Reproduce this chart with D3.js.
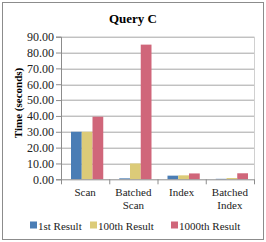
<!DOCTYPE html>
<html>
<head>
<meta charset="utf-8">
<script src="https://cdnjs.cloudflare.com/ajax/libs/d3/7.8.5/d3.min.js"></script>
<style>
  body { margin: 0; background: #fff; }
  svg text { font-family: "Liberation Serif", "Times New Roman", serif; }
</style>
</head>
<body>
<div id="chart"></div>
<script>
var width = 266;
var height = 242;

// data
var categories = ["Scan", "Batched Scan", "Index", "Batched Index"];
var seriesNames = ["1st Result", "100th Result", "1000th Result"];
var firstResult = [30.0, 0.6, 2.3, 0.3];
var hundredthResult = [30.0, 10.0, 2.5, 0.8];
var thousandthResult = [39.5, 85.0, 3.7, 3.8];
var yTicks = [0, 10, 20, 30, 40, 50, 60, 70, 80, 90];
var colors = ["#4a7db5", "#dccb78", "#d0667a"];

var series = [firstResult, hundredthResult, thousandthResult];

var margin = {top: 36.7, right: 12, bottom: 62.7, left: 61};
var plotW = width - margin.left - margin.right;
var plotH = height - margin.top - margin.bottom;

var svg = d3.select("#chart")
  .append("svg")
  .attr("width", width)
  .attr("height", height);

// outer frame
svg.append("rect")
  .attr("x", 2.5).attr("y", 2.5)
  .attr("width", 261).attr("height", 237)
  .attr("fill", "#fff")
  .attr("stroke", "#8c8c8c")
  .attr("stroke-width", 1);

svg.append("text")
  .attr("x", 133).attr("y", 23)
  .attr("text-anchor", "middle")
  .attr("font-size", 13)
  .attr("font-weight", "bold")
  .text("Query C");

var g = svg.append("g")
  .attr("transform", "translate(" + margin.left + "," + margin.top + ")");

var x = d3.scaleBand()
  .domain(categories)
  .range([0, plotW])
  .paddingInner(0)
  .paddingOuter(0);

var xInner = d3.scaleBand()
  .domain(d3.range(seriesNames.length))
  .range([10, x.bandwidth() - 6]);

var y = d3.scaleLinear()
  .domain([0, 90])
  .range([plotH, 0]);

// gridlines
g.selectAll(".grid")
  .data(yTicks.slice(1))
  .enter().append("line")
  .attr("x1", 0).attr("x2", plotW)
  .attr("y1", function(d) { return Math.round(y(d)) + 0.5; })
  .attr("y2", function(d) { return Math.round(y(d)) + 0.5; })
  .attr("stroke", "#a6a6a6")
  .attr("stroke-width", 1);

// right edge line of plot
g.append("line")
  .attr("x1", plotW + 0.5).attr("x2", plotW + 0.5)
  .attr("y1", 0).attr("y2", plotH)
  .attr("stroke", "#d0d0d0");

// bars
categories.forEach(function(cat, ci) {
  series.forEach(function(vals, si) {
    g.append("rect")
      .attr("x", x(cat) + xInner(si))
      .attr("y", y(vals[ci]))
      .attr("width", xInner.bandwidth())
      .attr("height", plotH - y(vals[ci]))
      .attr("fill", colors[si]);
  });
});

// y axis
var yAxis = d3.axisLeft(y)
  .tickValues(yTicks)
  .tickFormat(d3.format(".2f"))
  .tickSize(5)
  .tickPadding(2);

var ya = g.append("g").call(yAxis);
ya.attr("font-family", null);
ya.select(".domain").attr("stroke", "#8c8c8c");
ya.selectAll(".tick line").attr("stroke", "#8c8c8c");
ya.selectAll(".tick text")
  .attr("font-size", 12)
  .attr("fill", "#222");

// x axis
var xAxis = d3.axisBottom(x).tickSize(0).tickFormat("");
var xa = g.append("g")
  .attr("transform", "translate(0," + plotH + ")")
  .call(xAxis);
xa.select(".domain").attr("stroke", "#8c8c8c");

// ticks at category boundaries
g.selectAll(".xtick")
  .data(d3.range(categories.length + 1))
  .enter().append("line")
  .attr("x1", function(i) { return i * x.step() + 0.5; })
  .attr("x2", function(i) { return i * x.step() + 0.5; })
  .attr("y1", plotH).attr("y2", plotH + 5)
  .attr("stroke", "#8c8c8c");

// category labels (wrapped)
categories.forEach(function(cat) {
  var words = cat.split(" ");
  var t = g.append("text")
    .attr("x", x(cat) + x.bandwidth() / 2)
    .attr("y", plotH + 17)
    .attr("text-anchor", "middle")
    .attr("font-size", 11)
    .attr("fill", "#222");
  words.forEach(function(w, i) {
    t.append("tspan")
      .attr("x", x(cat) + x.bandwidth() / 2)
      .attr("dy", i === 0 ? 0 : 12.5)
      .text(w);
  });
});

// y axis title
svg.append("text")
  .attr("transform", "translate(22,103) rotate(-90)")
  .attr("text-anchor", "middle")
  .attr("font-size", 11)
  .attr("font-weight", "bold")
  .text("Time (seconds)");

// legend
var legendX = [30, 90, 171];
seriesNames.forEach(function(name, i) {
  svg.append("rect")
    .attr("x", legendX[i]).attr("y", 221.5)
    .attr("width", 7).attr("height", 7)
    .attr("fill", colors[i]);
  svg.append("text")
    .attr("x", legendX[i] + 8)
    .attr("y", 229.5)
    .attr("font-size", 11)
    .attr("fill", "#222")
    .text(name);
});
</script>
</body>
</html>
